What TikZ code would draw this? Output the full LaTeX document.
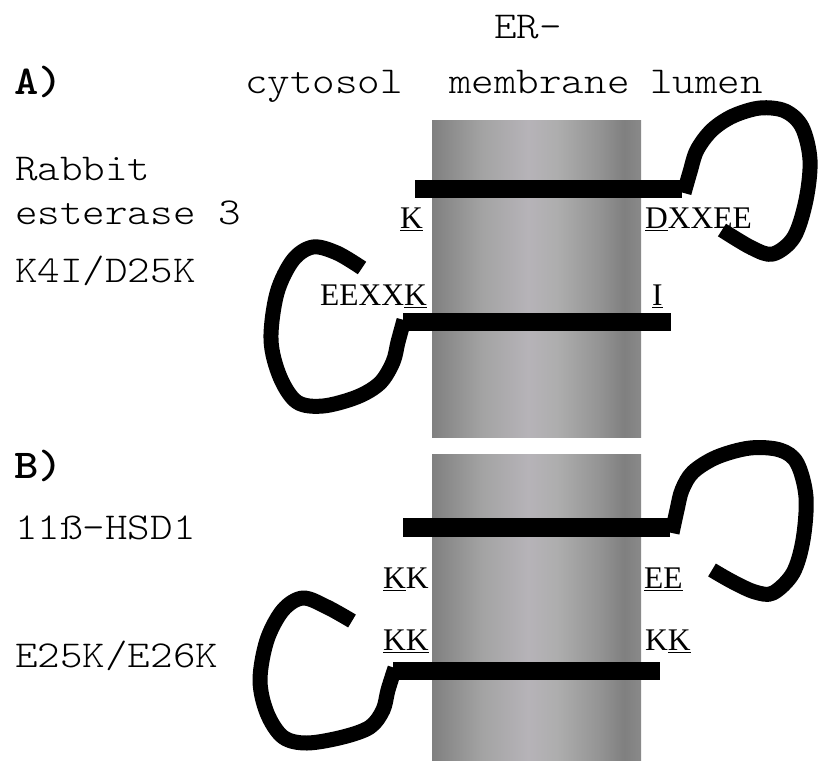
\documentclass[tikz,border=0pt]{standalone}
\usepackage{fontspec}
\newfontfamily\monof[BoldFont=lmmonolt10-bold.otf,FakeStretch=1.13]{lmmonolt10-regular.otf}
\newfontfamily\serf{Liberation Serif}
\newcommand\uline[1]{\setbox0\hbox{#1}\rlap{\rule[-3.2pt]{\wd0}{1.6pt}}#1}
\definecolor{mg0}{gray}{0.50}
\definecolor{mg1}{gray}{0.56}
\definecolor{mg2}{gray}{0.64}
\definecolor{mg3}{RGB}{182,179,184}
\definecolor{mg4}{gray}{0.68}
\definecolor{mg5}{gray}{0.58}
\definecolor{mg6}{gray}{0.50}
\definecolor{mg7}{gray}{0.54}
\pgfdeclarehorizontalshading{memb}{100bp}{color(0bp)=(mg0); color(25bp)=(mg0); color(30bp)=(mg1); color(37bp)=(mg2); color(48bp)=(mg3); color(55bp)=(mg4); color(65bp)=(mg5); color(71bp)=(mg6); color(75bp)=(mg7); color(100bp)=(mg7)}
\tikzset{
  mono/.style={font=\monof\fontsize{38}{42}\selectfont, inner sep=0pt, anchor=base west},
  monob/.style={font=\monof\bfseries\fontsize{41}{46}\selectfont, inner sep=0pt, anchor=base west},
  seq/.style={font=\serf\fontsize{31.5}{36}\selectfont, inner sep=0pt, anchor=base west},
  membrane/.style={shading=memb, draw=none},
  helix/.style={fill=black},
  loopline/.style={draw=black, line width=15pt, line join=round, line cap=butt}
}
\begin{document}
\begin{tikzpicture}[x=1pt, y=-1pt]
\useasboundingbox (0,0) rectangle (821,760);
% membranes
\shade[membrane] (432,120) rectangle (641,437);
\shade[membrane] (432,454) rectangle (641,760);
\node[draw=none, inner sep=0pt, minimum width=209pt, minimum height=317pt] (membA) at (536.5,278.5) {};
\node[draw=none, inner sep=0pt, minimum width=209pt, minimum height=306pt] (membB) at (536.5,607) {};
% header
\node[mono] (er) at (494,39) {ER-};
\node[monob] (labA) at (14,94) {A)};
\node[mono] (cyt) at (245,93) {cytosol};
\node[mono] (mem) at (449,93) {membrane};
\node[mono] (lum) at (650,93) {lumen};
% left labels
\node[mono] (rab) at (15,180) {Rabbit};
\node[mono] (est) at (15,224) {esterase 3};
\node[mono] (mut1) at (15,282) {K4I/D25K};
\node[monob] (labB) at (14,478) {B)};
\node[mono] (hsd) at (15,539) {11ß-HSD1};
\node[mono] (mut2) at (15,667) {E25K/E26K};
% helices
\fill[helix] (415,180) rectangle (682,198);
\fill[helix] (403,313) rectangle (671,331);
\fill[helix] (403,518) rectangle (670,537);
\fill[helix] (393,662) rectangle (660,680);
% loops
\draw[loopline] plot[smooth, tension=0.55] coordinates {(684,193) (690,172) (697,150) (712,130) (733,116) (760,108) (785,111) (802,127) (810,160) (806,200) (794,237) (773,254) (752,248) (722,230)};
\draw[loopline] plot[smooth, tension=0.55] coordinates {(404,320) (398,342) (393,362) (380,383) (357,397) (323,406) (297,402) (280,377) (271,340) (277,293) (293,260) (313,247) (337,253) (362,268)};
\draw[loopline] plot[smooth, tension=0.55] coordinates {(672,533) (677,510) (682,490) (693,472) (717,457) (750,448) (780,450) (797,463) (806,497) (803,540) (793,573) (773,593) (755,592) (733,582) (712,570)};
\draw[loopline] plot[smooth, tension=0.55] coordinates {(395,668) (388,690) (383,710) (370,727) (343,737) (307,743) (283,737) (267,713) (260,680) (267,640) (283,610) (303,598) (327,607) (352,621)};
% sequence labels
\node[seq] (k1) at (400,228) {\uline{K}};
\node[seq] (d1) at (645,228) {\uline{D}XXEE};
\node[seq] (e1) at (320,305) {EEXX\uline{K}};
\node[seq] (i1) at (652,305) {\uline{I}};
\node[seq] (kk1) at (383,588) {\uline{K}K};
\node[seq] (ee1) at (644,588) {\uline{E}\uline{E}};
\node[seq] (kk2) at (383,650) {\uline{K}\uline{K}};
\node[seq] (kk3) at (645,650) {K\uline{K}};
\end{tikzpicture}
\end{document}
